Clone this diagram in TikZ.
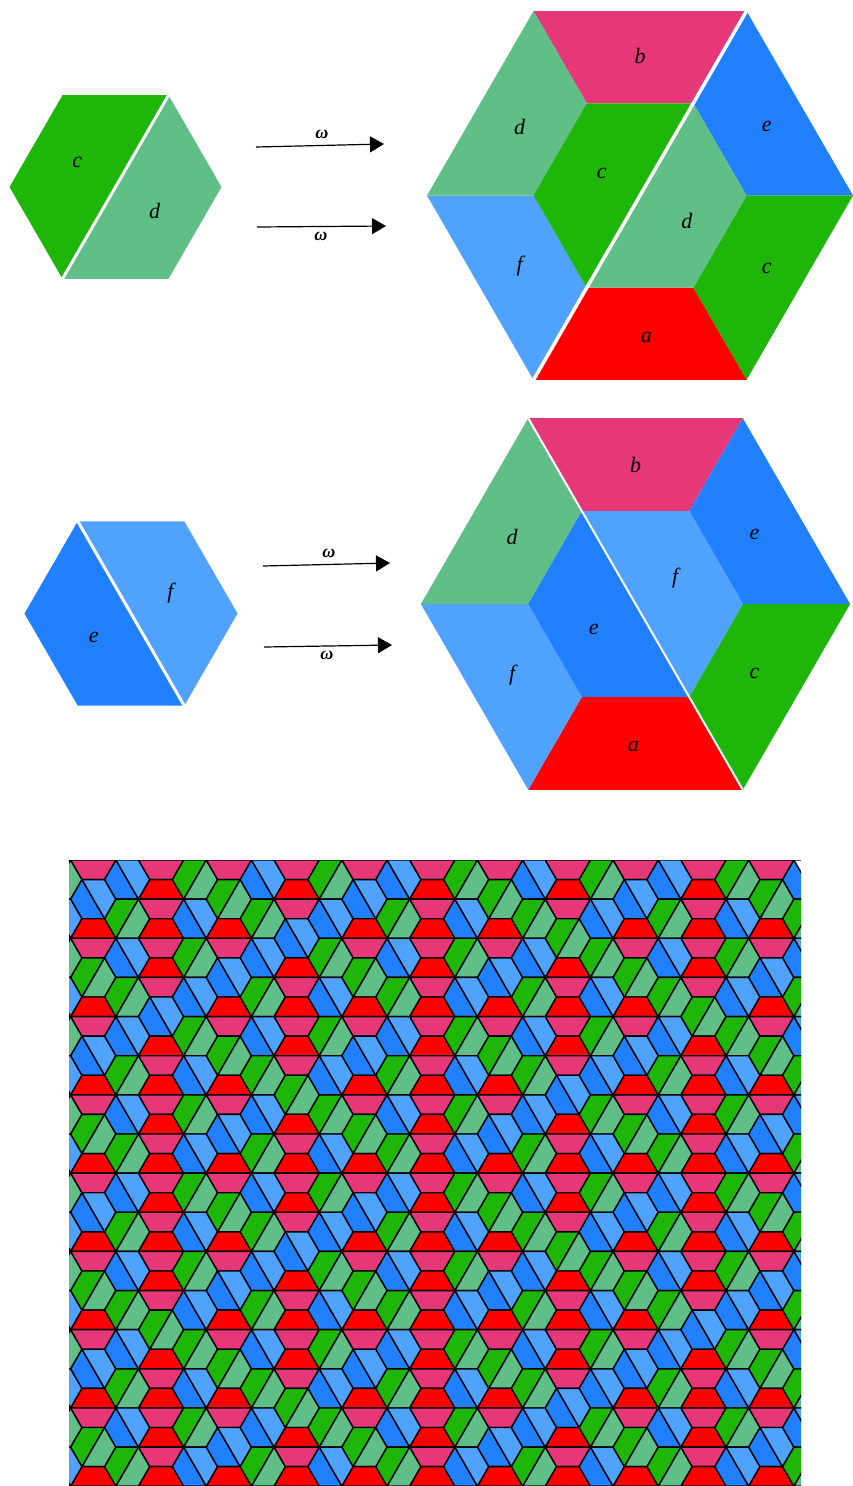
\documentclass[tikz,border=0pt]{standalone}
\usepackage{fontspec}
\setmainfont{Liberation Serif}
\usetikzlibrary{arrows.meta}
\definecolor{tileA}{RGB}{254,0,0}
\definecolor{tileB}{RGB}{230,55,120}
\definecolor{tileC}{RGB}{31,182,10}
\definecolor{tileD}{RGB}{96,190,135}
\definecolor{tileE}{RGB}{33,128,255}
\definecolor{tileF}{RGB}{80,162,255}
\tikzset{
  lab/.style={font=\fontsize{22}{22}\selectfont\itshape,inner sep=0pt},
  wlab/.style={font=\fontsize{18}{18}\selectfont\bfseries\itshape,inner sep=0pt},
  arr/.style={line width=1.2pt,-{Triangle[length=14pt,width=16pt]}},
  cut/.style={white,line width=3pt},
  edge/.style={draw=black,line width=1.4pt,line join=round}
}
% half hexagons, unit side, centre at origin
\newcommand\hexA[1][]{\path[fill=tileA,#1] (-1,0) -- (-.5,-.866) -- (.5,-.866) -- (1,0) -- cycle;}
\newcommand\hexB[1][]{\path[fill=tileB,#1] (-1,0) -- (-.5,.866) -- (.5,.866) -- (1,0) -- cycle;}
\newcommand\hexC[1][]{\path[fill=tileC,#1] (-.5,-.866) -- (.5,-.866) -- (-.5,.866) -- (-1,0) -- cycle;}
\newcommand\hexD[1][]{\path[fill=tileD,#1] (.5,-.866) -- (1,0) -- (.5,.866) -- (-.5,.866) -- cycle;}
\newcommand\hexE[1][]{\path[fill=tileE,#1] (-.5,-.866) -- (.5,.866) -- (-.5,.866) -- (-1,0) -- cycle;}
\newcommand\hexF[1][]{\path[fill=tileF,#1] (-.5,-.866) -- (.5,-.866) -- (1,0) -- (.5,.866) -- cycle;}
\newcommand\pairab{\hexA[edge]\hexB[edge]}
\newcommand\paircd{\hexC[edge]\hexD[edge]}
\newcommand\pairef{\hexE[edge]\hexF[edge]}
\newcommand\paireonly{\hexE[edge]}
% type of the hexagon at lattice point (i,j)
\newcount\hexi \newcount\hexj \newcount\hexk
\def\findtype{%
  \ifodd\hexi
    \ifodd\hexj \def\htype{cd}\else \def\htype{ef}\fi
  \else
    \ifodd\hexj \def\htype{ab}%
    \else
      \ifnum\hexi=0 \ifnum\hexj=0 \def\htype{ab}\else \halvehex\fi
      \else \halvehex\fi
    \fi
  \fi}
\def\halvehex{\divide\hexi by 2 \divide\hexj by 2 \findtype}
\newcommand\tileindex[2]{%
  \hexi=\numexpr#1-11\relax
  \hexk=#1 \divide\hexk by 2
  \hexj=\numexpr37-#2-\hexk\relax
  \findtype}

\begin{document}
\begin{tikzpicture}[x=1pt,y=-1pt]
  \path[fill=white,use as bounding box] (0,0) rectangle (852,1486);

  % c d hexagon
  \begin{scope}[shift={(115.5,187)},scale=106]
    \hexC \hexD
    \draw[cut] (.5,-.866) -- (-.5,.866);
    \node[lab] (sc) at (-.36,-.23) {c};
    \node[lab] (sd) at (.37,.23) {d};
  \end{scope}

  % e f hexagon
  \begin{scope}[shift={(131,613.5)},scale=106.5]
    \hexE \hexF
    \draw[cut] (-.5,-.866) -- (.5,.866);
    \node[lab] (se) at (-.35,.22) {e};
    \node[lab] (sf) at (.37,-.19) {f};
  \end{scope}

  % arrows
  \coordinate (w1a) at (256,147);
  \coordinate (w1b) at (384,144);
  \coordinate (w2a) at (257,227);
  \coordinate (w2b) at (386,226);
  \coordinate (w3a) at (263,566);
  \coordinate (w3b) at (390,563);
  \coordinate (w4a) at (264,647);
  \coordinate (w4b) at (392,645);
  \draw[arr] (w1a) -- (w1b);
  \draw[arr] (w2a) -- (w2b);
  \draw[arr] (w3a) -- (w3b);
  \draw[arr] (w4a) -- (w4b);
  \node[wlab] (o1) at (322,134) {ω};
  \node[wlab] (o2) at (321,236) {ω};
  \node[wlab] (o3) at (329,553) {ω};
  \node[wlab] (o4) at (327,655) {ω};

  % image of c d
  \begin{scope}[shift={(640,195.5)},scale=106.5]
    \begin{scope}[shift={(0,-1.732)}] \hexB \node[lab] (Pb) at (0,.42) {b}; \end{scope}
    \begin{scope}[shift={(1.5,-.866)}] \hexE \node[lab] (Pe) at (-.31,.22) {e}; \end{scope}
    \begin{scope}[shift={(1.5,.866)}] \hexC \node[lab] (Pc) at (-.31,-.18) {c}; \end{scope}
    \begin{scope}[shift={(0,1.732)}] \hexA \node[lab] (Pa) at (.06,-.4) {a}; \end{scope}
    \begin{scope}[shift={(-1.5,.866)}] \hexF \node[lab] (Pf) at (.37,-.2) {f}; \end{scope}
    \begin{scope}[shift={(-1.5,-.866)}] \hexD \node[lab] (Pd) at (.37,.22) {d}; \end{scope}
    \hexC \hexD
    \node[lab] (Pc0) at (-.36,-.21) {c};
    \node[lab] (Pd0) at (.44,.24) {d};
    \draw[cut,line width=3.5pt] (1,-1.732) -- (-1,1.732);
  \end{scope}

  % image of e f
  \begin{scope}[shift={(635.5,604)},scale=107.3]
    \begin{scope}[shift={(0,-1.732)}] \hexB \node[lab] (Qb) at (0,.44) {b}; \end{scope}
    \begin{scope}[shift={(1.5,-.866)}] \hexE \node[lab] (Qe) at (-.39,.22) {e}; \end{scope}
    \begin{scope}[shift={(1.5,.866)}] \hexC \node[lab] (Qc) at (-.39,-.22) {c}; \end{scope}
    \begin{scope}[shift={(0,1.732)}] \hexA \node[lab] (Qa) at (-.02,-.4) {a}; \end{scope}
    \begin{scope}[shift={(-1.5,.866)}] \hexF \node[lab] (Qf) at (.35,-.2) {f}; \end{scope}
    \begin{scope}[shift={(-1.5,-.866)}] \hexD \node[lab] (Qd) at (.35,.24) {d}; \end{scope}
    \hexE \hexF
    \node[lab] (Qe0) at (-.39,.24) {e};
    \node[lab] (Qf0) at (.37,-.24) {f};
    \draw[cut,line width=2pt] (-1,-1.732) -- (1,1.732);
  \end{scope}

  % the tiling
  \begin{scope}
    \clip (69,860) rectangle (801,1486);
    \foreach \col in {0,...,22}{
      \foreach \row in {-1,...,16}{
        \pgfmathsetmacro\hx{93.3+(\col-1)*33.9}
        \pgfmathsetmacro\hy{860+39.14*(\row+0.5*(1-mod(\col,2)))}
        \tileindex{\col}{\row}
        \ifnum\col=22 \ifnum\row=0 \def\htype{eonly}\fi\fi
        \begin{scope}[shift={(\hx,\hy)},scale=22.6]
          \csname pair\htype\endcsname
        \end{scope}
      }
    }
  \end{scope}
\end{tikzpicture}
\end{document}
